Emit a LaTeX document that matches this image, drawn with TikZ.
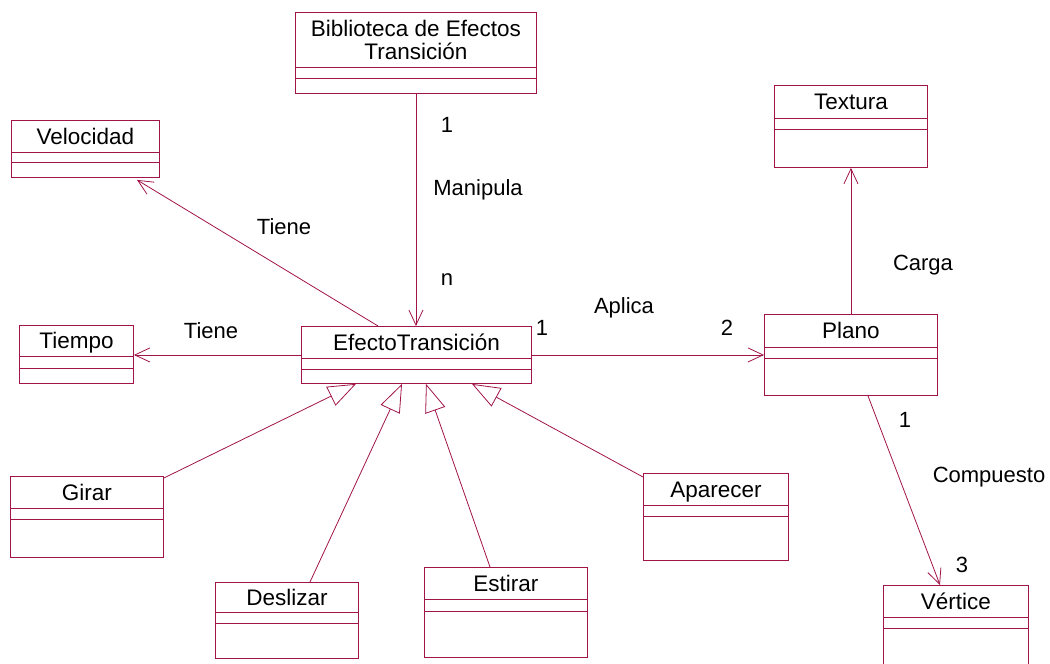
\documentclass[tikz,border=0pt]{standalone}
\usepackage{fontspec}
\setmainfont{Liberation Sans}
\usetikzlibrary{arrows.meta,calc}
\definecolor{umlred}{RGB}{160,20,72}
\tikzset{
  classbox/.style={draw=umlred, line width=0.9pt, anchor=north west, inner sep=0pt,
    align=center, font=\fontsize{22.5}{23}\selectfont},
  classline/.style={draw=umlred, line width=0.9pt},
  assoc/.style={draw=umlred, line width=0.8pt, -{Straight Barb[length=15pt,width=14pt]}},
  inherit/.style={draw=umlred, line width=0.8pt, -{Triangle[open,length=28pt,width=21pt]}},
  rolelabel/.style={font=\fontsize{22}{23}\selectfont, inner sep=0pt}
}
% name, x, y, width, height, baseline, 1st line, 2nd line, text
\newcommand{\umlclass}[9]{%
  \pgfmathsetmacro{\umldp}{#5-#6}
  \node[classbox, minimum width=#4pt, text height=#6pt, text depth=\umldp pt] (#1) at (#2,#3) {#9};
  \draw[classline] ([yshift=-#7pt]#1.north west) -- ([yshift=-#7pt]#1.north east);
  \draw[classline] ([yshift=-#8pt]#1.north west) -- ([yshift=-#8pt]#1.north east);
}
\begin{document}
\begin{tikzpicture}[x=1pt, y=-1pt]
    \clip (0,0) rectangle (1050,664);
    % classes
    \umlclass{biblio}{295}{12}{241}{81}{47}{55}{66}{Biblioteca de Efectos\\Transición}
    \umlclass{velocidad}{11}{120}{148}{57}{24}{32}{42}{Velocidad}
    \umlclass{tiempo}{19}{325}{114}{58}{23}{31}{43}{Tiempo}
    \umlclass{efecto}{301}{326}{230}{57}{24}{32}{43}{EfectoTransición}
    \umlclass{plano}{764}{314}{173}{81}{24}{33}{44}{Plano}
    \umlclass{textura}{774}{85}{153}{82}{24}{33}{44}{Textura}
    \umlclass{vertice}{883}{585}{145}{100}{24}{32}{43}{Vértice}
    \umlclass{girar}{10}{476}{153}{81}{24}{32}{43}{Girar}
    \umlclass{deslizar}{215}{582}{143}{76}{23}{30}{41}{Deslizar}
    \umlclass{estirar}{424}{567}{163}{90}{24}{32}{44}{Estirar}
    \umlclass{aparecer}{643}{473}{145}{87}{24}{32}{43}{Aparecer}
    % associations
    \draw[assoc] (biblio.south) -- (biblio.south |- efecto.north);
    \draw[assoc] ($(efecto.north west)+(77,0)$) -- ($(velocidad.south west)+(126,2)$);
    \draw[assoc] (efecto.west) -- (efecto.west -| tiempo.east);
    \draw[assoc] (efecto.east) -- (efecto.east -| plano.west);
    \draw[assoc] (plano.north) -- (textura.south);
    \draw[assoc] ($(plano.south west)+(104,0)$) -- ($(vertice.north west)+(57,0)$);
    % generalizations
    \draw[inherit] ($(girar.north east)+(0,2)$) -- ($(efecto.south west)+(55,0)$);
    \draw[inherit] ($(deslizar.north west)+(95,0)$) -- ($(efecto.south west)+(101,0)$);
    \draw[inherit] ($(estirar.north west)+(66,0)$) -- ($(efecto.south west)+(125,0)$);
    \draw[inherit] ($(aparecer.north west)+(0,4)$) -- ($(efecto.south west)+(171,0)$);
    % labels
    \node[rolelabel] (mult-b1) at (447,125) {1};
    \node[rolelabel] (lbl-manipula) at (478,190) {Manipula};
    \node[rolelabel] (mult-bn) at (447,280) {n};
    \node[rolelabel] (lbl-tiene1) at (284,227) {Tiene};
    \node[rolelabel] (lbl-tiene2) at (211,331) {Tiene};
    \node[rolelabel] (mult-a1) at (542,328) {1};
    \node[rolelabel] (lbl-aplica) at (624,308) {Aplica};
    \node[rolelabel] (mult-a2) at (727,328) {2};
    \node[rolelabel] (lbl-carga) at (923,265) {Carga};
    \node[rolelabel] (mult-c1) at (905,420) {1};
    \node[rolelabel] (lbl-compuesto) at (989,477) {Compuesto};
    \node[rolelabel] (mult-c3) at (962,565) {3};
\end{tikzpicture}
\end{document}
